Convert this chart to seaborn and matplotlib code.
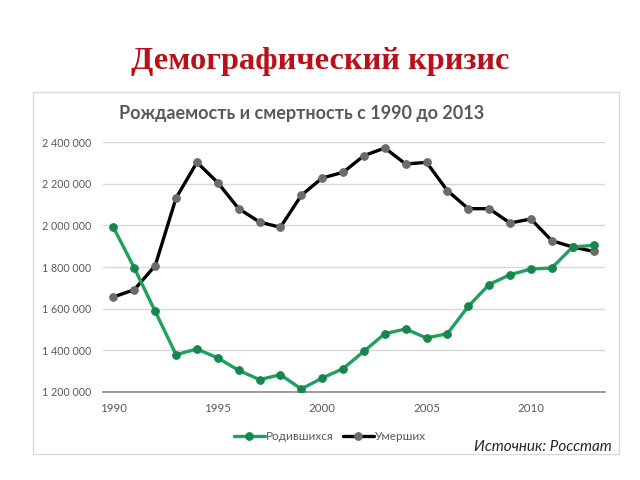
import matplotlib
matplotlib.use("Agg")
import matplotlib.pyplot as plt
import matplotlib.ticker as mticker
from matplotlib.patches import Rectangle
import seaborn as sns
import pandas as pd

years = list(range(1990, 2014))
births = [1990400, 1795200, 1587200, 1379200, 1406400, 1363200, 1304000, 1259200,
          1283200, 1214400, 1267200, 1312000, 1395200, 1480000, 1502400, 1459200,
          1480000, 1611200, 1716000, 1763200, 1790400, 1795200, 1896000, 1904000]
deaths = [1656000, 1691200, 1806400, 2131200, 2302400, 2204800, 2080000, 2016000,
          1990400, 2144000, 2227200, 2254400, 2334400, 2371200, 2294400, 2302400,
          2166400, 2080000, 2080000, 2011200, 2030400, 1926400, 1896000, 1875200]
series_names = ["Родившихся", "Умерших"]
y_ticks = [1200000, 1400000, 1600000, 1800000, 2000000, 2200000, 2400000]
x_ticks = [1990, 1995, 2000, 2005, 2010]

main_title = "Демографический кризис"
chart_title = "Рождаемость и смертность с 1990 до 2013"
source_text = "Источник: Росстат"

sns.set_style("white")
plt.rcParams['font.family'] = ['Lato', 'Open Sans', 'DejaVu Sans']

df_b = pd.DataFrame({"year": years, "value": births})
df_d = pd.DataFrame({"year": years, "value": deaths})

fig = plt.figure(figsize=(6.4, 4.8), dpi=100)
fig.patch.set_facecolor("white")

# chart box
fig.patches.append(Rectangle((33 / 640, 1 - 454 / 480), (619 - 33) / 640, (454 - 92) / 480,
                             transform=fig.transFigure, fill=False,
                             edgecolor="#d9d9d9", linewidth=1.0))

ax = fig.add_axes([103 / 640, 1 - 392 / 480, (605 - 103) / 640, (392 - 142) / 480])

sns.lineplot(data=df_d, x="year", y="value", ax=ax, color="#000000", linewidth=2.4,
             marker="o", markersize=5.5, markerfacecolor="#6b6b6b",
             markeredgecolor="#6b6b6b", label=series_names[1], zorder=3)
sns.lineplot(data=df_b, x="year", y="value", ax=ax, color="#1fa15e", linewidth=2.4,
             marker="o", markersize=5.5, markerfacecolor="#17864e",
             markeredgecolor="#17864e", label=series_names[0], zorder=4)

ax.set_xlim(1989.5, 2013.55)
ax.set_ylim(1200000, 2400000)
ax.set_yticks(y_ticks)
ax.set_xticks(x_ticks)
ax.yaxis.set_major_formatter(mticker.FuncFormatter(lambda v, p: f"{int(v):,}".replace(",", " ")))
ax.grid(axis="y", color="#d9d9d9", linewidth=1.0)
ax.grid(axis="x", visible=False)
for s in ["top", "right", "left"]:
    ax.spines[s].set_visible(False)
ax.spines["bottom"].set_color("#8c8c8c")
ax.spines["bottom"].set_linewidth(1.2)
ax.tick_params(axis="x", length=0, labelsize=8.3, labelcolor="#595959", pad=8)
ax.tick_params(axis="y", length=0, labelsize=7.7, labelcolor="#595959", pad=8.5)
ax.set_xlabel("")
ax.set_ylabel("")

handles, labels = ax.get_legend_handles_labels()
order = [labels.index(n) for n in series_names]
ax.legend([handles[i] for i in order], [labels[i] for i in order],
          loc="center", bbox_to_anchor=(330 / 640, 1 - 437 / 480),
          bbox_transform=fig.transFigure, ncol=2, frameon=False,
          fontsize=8.5, labelcolor="#595959", handlelength=2.6,
          handletextpad=0.1, columnspacing=0.8)

fig.text(320 / 640, 1 - 62 / 480, main_title, ha="center", va="center",
         fontsize=23.3, fontweight="bold", color="#b8111a",
         family=["Liberation Serif", "DejaVu Serif"])
fig.text(302 / 640, 1 - 114 / 480, chart_title, ha="center", va="center",
         fontsize=13, fontweight="bold", color="#595959")
fig.text(612 / 640, 1 - 447 / 480, source_text, ha="right", va="center",
         fontsize=11, style="italic", color="#262626")

fig.savefig("out.png", dpi=100)
